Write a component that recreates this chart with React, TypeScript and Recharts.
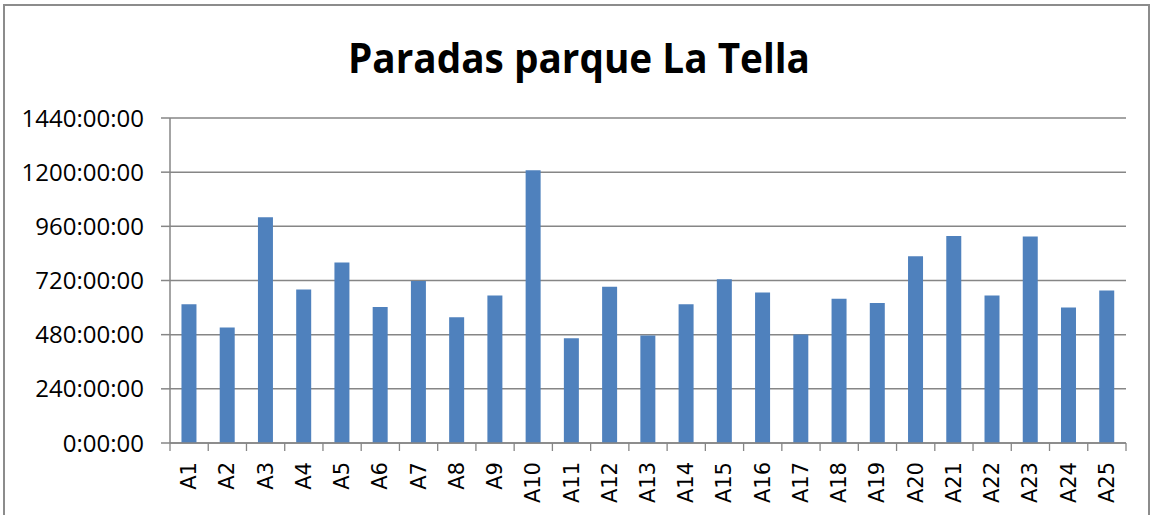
import { Bar, BarChart, CartesianGrid, XAxis, YAxis } from "recharts";

const turbines = [
  "A1", "A2", "A3", "A4", "A5", "A6", "A7", "A8", "A9", "A10", "A11", "A12", "A13",
  "A14", "A15", "A16", "A17", "A18", "A19", "A20", "A21", "A22", "A23", "A24", "A25",
];
// horas de parada por aerogenerador
const stopHours = [
  615, 512, 1000, 680, 800, 603, 718, 557, 654, 1208, 464, 692, 476,
  615, 726, 667, 481, 639, 620, 827, 917, 654, 915, 600, 676,
];
const yTicks = [0, 240, 480, 720, 960, 1200, 1440];

const data = turbines.map((name, i) => ({ name, hours: stopHours[i] }));

const WIDTH = 1153;
const HEIGHT = 515;
const PLOT_LEFT = 170;
const PLOT_RIGHT = 27;
const BAND = (WIDTH - PLOT_LEFT - PLOT_RIGHT) / turbines.length;
const GRID = "#868686";

const CategoryTick = (props: any) => {
  const { x, y, payload, index } = props;
  const axisY = y - 8;
  const half = BAND / 2;
  const ty = y + 11;
  return (
    <g>
      <line x1={x - half} x2={x - half} y1={axisY} y2={axisY + 8} stroke={GRID} strokeWidth={1.3} />
      {index === turbines.length - 1 && (
        <line x1={x + half} x2={x + half} y1={axisY} y2={axisY + 8} stroke={GRID} strokeWidth={1.3} />
      )}
      <text
        x={x}
        y={ty}
        transform={`rotate(-90, ${x}, ${ty})`}
        textAnchor="end"
        dominantBaseline="central"
        fontFamily="DejaVu Sans"
        fontSize={21}
        fill="#000"
      >
        {payload.value}
      </text>
    </g>
  );
};

export default function App() {
  return (
    <div
      style={{
        position: "absolute",
        left: 0,
        top: 0,
        width: WIDTH,
        height: HEIGHT,
        overflow: "hidden",
        background: "#fff",
      }}
    >
      <div
        style={{
          position: "absolute",
          left: 3,
          top: 4,
          width: 1143,
          height: 540,
          border: "2px solid #8c8c8c",
        }}
      />
      <svg style={{ position: "absolute", left: 0, top: 0 }} width={WIDTH} height={100}>
        <text
          x={579}
          y={73}
          textAnchor="middle"
          fontFamily="Open Sans"
          fontWeight="bold"
          fontSize={42}
          textLength={462}
          lengthAdjust="spacingAndGlyphs"
          fill="#000"
        >
          Paradas parque La Tella
        </text>
      </svg>
      <div style={{ position: "absolute", left: 0, top: 0 }}>
        <BarChart
          width={WIDTH}
          height={HEIGHT}
          data={data}
          margin={{ top: 118, right: PLOT_RIGHT, left: 0, bottom: 0 }}
          barCategoryGap="30%"
        >
          <CartesianGrid vertical={false} stroke={GRID} strokeWidth={1.5} />
          <XAxis
            dataKey="name"
            interval={0}
            height={72}
            tickSize={8}
            tickMargin={0}
            tickLine={false}
            axisLine={{ stroke: GRID, strokeWidth: 1.5 }}
            tick={<CategoryTick />}
          />
          <YAxis
            width={PLOT_LEFT}
            domain={[0, 1440]}
            ticks={yTicks}
            interval={0}
            tickFormatter={(v: number) => `${v}:00:00`}
            tickSize={9}
            tickMargin={17}
            axisLine={{ stroke: GRID, strokeWidth: 1.5 }}
            tickLine={{ stroke: GRID, strokeWidth: 1.5 }}
            tick={{ fill: "#000", fontFamily: "Open Sans", fontSize: 24 }}
          />
          <Bar dataKey="hours" fill="#4F81BD" isAnimationActive={false} />
        </BarChart>
      </div>
    </div>
  );
}
